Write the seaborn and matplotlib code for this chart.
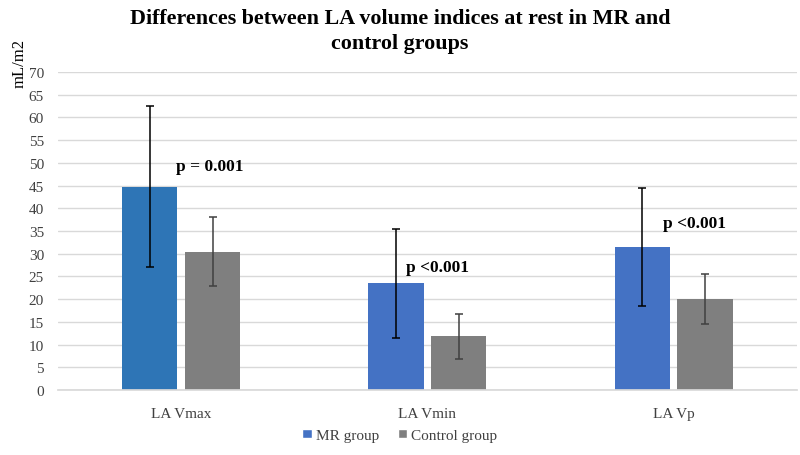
import matplotlib
matplotlib.use("Agg")
import matplotlib.pyplot as plt
import seaborn as sns
import pandas as pd
import numpy as np
from matplotlib.patches import Patch

categories = ["LA Vmax", "LA Vmin", "LA Vp"]
groups = ["MR group", "Control group"]
mr_values = [44.7, 23.5, 31.5]
mr_errors = [17.7, 12.0, 12.9]
control_values = [30.4, 11.8, 20.0]
control_errors = [7.6, 5.0, 5.5]
p_labels = ["p = 0.001", "p <0.001", "p <0.001"]
p_x = [-0.02, 0.915, 1.955]
p_y = [49.3, 27.1, 36.8]
y_ticks = list(range(0, 75, 5))

df = pd.DataFrame({
    "category": categories * 2,
    "group": [groups[0]] * 3 + [groups[1]] * 3,
    "value": mr_values + control_values,
    "err": mr_errors + control_errors,
})

sns.set_theme(style="white")
plt.rcParams["font.family"] = ["Liberation Serif", "DejaVu Serif"]

fig = plt.figure(figsize=(8, 4.56), dpi=100)
ax = fig.add_axes([0.0725, 0.1425, 0.9235, 0.6975])

palette = {"MR group": "#4472C4", "Control group": "#7F7F7F"}
sns.barplot(data=df, x="category", y="value", hue="group", order=categories,
            hue_order=groups, palette=palette, width=0.51, gap=0.12,
            errorbar=None, saturation=1, ax=ax, legend=False)

patches = ax.patches
n = len(categories)
for i, p in enumerate(patches[:2 * n]):
    g = i // n
    c = i % n
    p.set_edgecolor("none")
    if g == 0 and c == 0:
        p.set_facecolor("#2E75B6")
    xc = p.get_x() + p.get_width() / 2
    val = mr_values[c] if g == 0 else control_values[c]
    err = mr_errors[c] if g == 0 else control_errors[c]
    col = "#000000" if g == 0 else "#404040"
    ax.errorbar(xc, val, yerr=err, fmt="none", ecolor=col, elinewidth=1.1,
                capsize=2.8, capthick=1.1, zorder=5)

for t, x, y in zip(p_labels, p_x, p_y):
    ax.text(x, y, t, ha="left", va="center", fontsize=12.5, fontweight="bold",
            color="#000000")

ax.set_ylim(0, 70)
ax.set_xlim(-0.5, 2.5)
ax.set_yticks(y_ticks)
ax.set_yticklabels([str(v) for v in y_ticks])
ax.yaxis.grid(True, color="#D9D9D9", linewidth=1)
ax.set_axisbelow(True)
for s in ["top", "right", "left"]:
    ax.spines[s].set_visible(False)
ax.spines["bottom"].set_color("#D9D9D9")
ax.tick_params(axis="both", length=0, labelsize=11, labelcolor="#404040")
ax.tick_params(axis="y", pad=10)
ax.tick_params(axis="x", pad=12)
ax.set_xlabel("")
ax.set_ylabel("")

fig.text(0.024, 0.86, "mL/m2", rotation=90, ha="center", va="center",
         fontsize=12, color="#000000")

fig.text(0.5, 0.98, "Differences between LA volume indices at rest in MR and\ncontrol groups",
         ha="center", va="top", fontsize=15.8, fontweight="bold",
         linespacing=1.3, color="#000000")

handles = [Patch(facecolor="#4472C4"), Patch(facecolor="#7F7F7F")]
fig.legend(handles, groups, loc="center", bbox_to_anchor=(0.5, 0.043), ncol=2,
           frameon=False, fontsize=11, handlelength=0.6, handleheight=0.6,
           handletextpad=0.3, columnspacing=1.2, labelcolor="#404040")

fig.savefig("out.png", dpi=100)
